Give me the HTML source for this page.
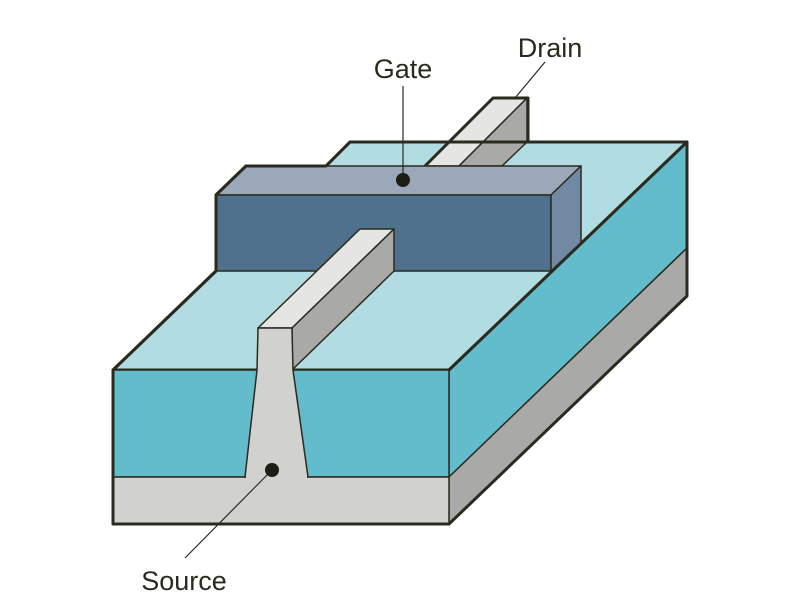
<!DOCTYPE html>
<html><head><style>body{margin:0;background:#fff}svg{display:block}text{font-family:"Liberation Sans",sans-serif;font-size:27px;fill:#2b2a1e}</style></head>
<body>
<svg width="800" height="600" viewBox="0 0 800 600">
<g stroke="#2b2a1e" stroke-linejoin="round">
<polygon points="113,370 216,271 216,195 246,166 326,166 350,142 687,142 449,370" fill="#b1dce2" stroke-width="3"/>
<polygon points="425,166 493,98 527,98 459,166" fill="#e5e5e3" stroke-width="1.5"/>
<polygon points="459,166 527,98 527,142 502,166" fill="#a9a9a7" stroke-width="1.5"/>
<polyline points="425,166 493,98 528,98 528,142" fill="none" stroke-width="3"/>
<polygon points="449,370 687,142 687,248 449,477" fill="#62bccc" stroke-width="1.5"/>
<polygon points="449,477 687,248 687,296 449,524" fill="#a9a9a7" stroke-width="1.5"/>
<rect x="113" y="370" width="336" height="107" fill="#62bccc" stroke-width="1.5"/>
<rect x="113" y="477" width="336" height="47" fill="#d1d1cf" stroke-width="1.5"/>
<polygon points="216,195 246,166 581,166 551,195" fill="#9aa8b9" stroke-width="1.5"/>
<rect x="216" y="195" width="335" height="76" fill="#4f718e" stroke-width="1.5"/>
<polygon points="551,195 581,166 581,243 551,271" fill="#7189a3" stroke-width="1.5"/>
<polygon points="258,328 360,229 394,229 292,328" fill="#e5e5e3" stroke-width="1.5"/>
<polygon points="292,328 394,229 394,271 292,370" fill="#a9a9a7" stroke-width="1.5"/>
<polygon points="258,328 292,328 293,370 308,477 245,477 257,370" fill="#d1d1cf" stroke-width="1.5"/>
<line x1="246" y1="477" x2="307" y2="477" stroke="#d1d1cf" stroke-width="2"/>
<polygon points="113,370 216,271 216,195 246,166 326,166 350,142 687,142 687,296 449,524 113,524" fill="none" stroke-width="3"/>
<polyline points="449,370 687,142" fill="none" stroke-width="3"/>
<line x1="403" y1="86" x2="403" y2="180" stroke-width="1.2"/>
<line x1="545" y1="62" x2="515" y2="98" stroke-width="1.2"/>
<line x1="185" y1="558" x2="272" y2="470" stroke-width="1.2"/>
</g>
<circle cx="403" cy="180" r="7" fill="#1e1d14"/>
<circle cx="272" cy="470" r="7" fill="#1e1d14"/>
<text x="403" y="78" text-anchor="middle">Gate</text>
<text x="550" y="57" text-anchor="middle">Drain</text>
<text x="184" y="590" text-anchor="middle">Source</text>
</svg>
</body></html>
